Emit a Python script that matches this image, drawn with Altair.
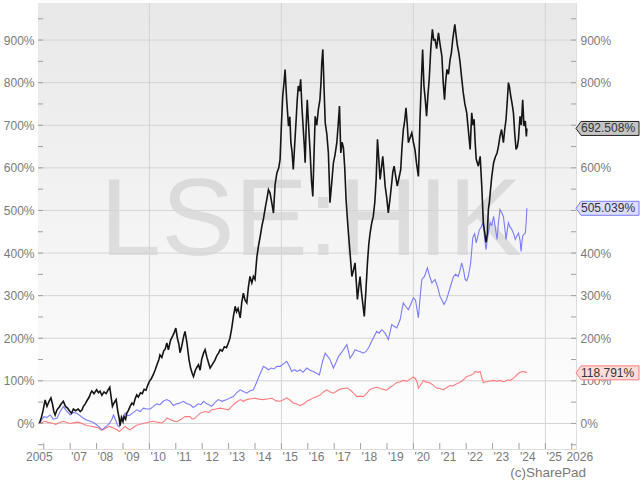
import altair as alt
import pandas as pd

# ---------------- data ----------------
hik_t = [2005.83, 2005.90, 2005.97, 2006.05, 2006.12, 2006.20, 2006.27, 2006.33, 2006.38, 2006.43,
         2006.50, 2006.58, 2006.65, 2006.74, 2006.82, 2006.90, 2006.97, 2007.05, 2007.12, 2007.20,
         2007.30, 2007.38, 2007.45, 2007.50, 2007.57, 2007.65, 2007.72, 2007.78, 2007.82, 2007.90,
         2008.00, 2008.07, 2008.13, 2008.20, 2008.28, 2008.36, 2008.43, 2008.50, 2008.55, 2008.60,
         2008.66, 2008.74, 2008.80, 2008.86, 2008.89, 2008.94, 2009.00, 2009.04, 2009.10, 2009.14,
         2009.20, 2009.27, 2009.34, 2009.40, 2009.46, 2009.52, 2009.58, 2009.66, 2009.73, 2009.80,
         2009.87, 2009.94, 2010.00, 2010.07, 2010.15, 2010.22, 2010.30, 2010.36, 2010.40, 2010.47,
         2010.54, 2010.60, 2010.66, 2010.72, 2010.80, 2010.88, 2010.95, 2011.00, 2011.06, 2011.12,
         2011.16, 2011.22, 2011.30, 2011.35, 2011.42, 2011.50, 2011.56, 2011.62, 2011.67, 2011.74,
         2011.80, 2011.86, 2011.92, 2011.98, 2012.05, 2012.11, 2012.18, 2012.25, 2012.30, 2012.38,
         2012.45, 2012.49, 2012.56, 2012.62, 2012.68, 2012.76, 2012.84, 2012.92, 2012.99, 2013.05,
         2013.12, 2013.18, 2013.25, 2013.30, 2013.36, 2013.44, 2013.50, 2013.56, 2013.62, 2013.69,
         2013.75, 2013.81, 2013.88, 2013.94, 2014.00, 2014.07, 2014.13, 2014.20, 2014.26, 2014.32,
         2014.40, 2014.46, 2014.51, 2014.57, 2014.63, 2014.70, 2014.76, 2014.83, 2014.90, 2014.95,
         2015.00, 2015.05, 2015.10, 2015.14, 2015.20, 2015.27, 2015.32, 2015.36, 2015.40, 2015.45,
         2015.50, 2015.56, 2015.60, 2015.64, 2015.69, 2015.73, 2015.78, 2015.83, 2015.87, 2015.90,
         2015.94, 2015.98, 2016.03, 2016.09, 2016.14, 2016.19, 2016.24, 2016.28, 2016.34, 2016.40,
         2016.46, 2016.50, 2016.53, 2016.57, 2016.62, 2016.66, 2016.72, 2016.78, 2016.81, 2016.84,
         2016.90, 2016.97, 2017.03, 2017.10, 2017.15, 2017.20, 2017.25, 2017.30, 2017.35, 2017.40,
         2017.45, 2017.50, 2017.54, 2017.60, 2017.67, 2017.73, 2017.79, 2017.84, 2017.88, 2017.93,
         2017.98, 2018.03, 2018.08, 2018.14, 2018.20, 2018.26, 2018.31, 2018.36, 2018.42, 2018.48,
         2018.54, 2018.59, 2018.64, 2018.69, 2018.74, 2018.79, 2018.84, 2018.89, 2018.93, 2018.99,
         2019.05, 2019.12, 2019.18, 2019.22, 2019.27, 2019.33, 2019.39, 2019.45, 2019.52, 2019.57,
         2019.62, 2019.67, 2019.72, 2019.77, 2019.81, 2019.87, 2019.94, 2020.00, 2020.06, 2020.12,
         2020.19, 2020.22, 2020.25, 2020.30, 2020.35, 2020.40, 2020.45, 2020.50, 2020.55, 2020.60,
         2020.66, 2020.72, 2020.77, 2020.82, 2020.88, 2020.95, 2021.01, 2021.08, 2021.13, 2021.18,
         2021.22, 2021.27, 2021.33, 2021.39, 2021.44, 2021.49, 2021.57, 2021.62, 2021.67, 2021.72,
         2021.77, 2021.83, 2021.89, 2021.95, 2022.02, 2022.08, 2022.15, 2022.21, 2022.26, 2022.30,
         2022.34, 2022.38, 2022.46, 2022.53, 2022.59, 2022.65, 2022.70, 2022.75, 2022.80, 2022.84,
         2022.88, 2022.91, 2022.97, 2023.04, 2023.10, 2023.17, 2023.22, 2023.28, 2023.34, 2023.41,
         2023.46, 2023.51, 2023.56, 2023.60, 2023.64, 2023.69, 2023.74, 2023.79, 2023.84, 2023.89,
         2023.94, 2023.98, 2024.04, 2024.09, 2024.14, 2024.19, 2024.24, 2024.28, 2024.30]
hik_v = [0, 12, 30, 55, 40, 52, 60, 45, 28, 20,
         32, 38, 45, 52, 40, 36, 30, 24, 34, 30,
         34, 28, 32, 40, 46, 55, 62, 72, 76, 70,
         79, 72, 76, 66, 74, 70, 78, 85, 62, 40,
         48, 56, 30, 10, -5, 14, 4, 16, 10, 24,
         30, 40, 48, 44, 58, 67, 62, 72, 70, 80,
         78, 90, 99, 105, 115, 126, 140, 150, 161, 155,
         170, 175, 189, 173, 195, 205, 215, 224, 200, 185,
         166, 180, 205, 216, 190, 150, 130, 118, 110, 125,
         132, 138, 125, 150, 165, 173, 155, 140, 130, 138,
         145, 150, 160, 165, 173, 170, 180, 178, 189, 200,
         224, 250, 275, 262, 270, 248, 285, 306, 290, 283,
         320, 345, 330, 345, 338, 390, 416, 440, 463, 480,
         510, 530, 549, 541, 520, 494, 560, 588, 600, 620,
         700, 768, 800, 831, 760, 698, 720, 659, 640, 596,
         650, 714, 760, 792, 780, 808, 740, 690, 650, 612,
         700, 760, 700, 635, 570, 533, 640, 721, 700, 737,
         760, 800, 847, 878, 780, 706, 680, 635, 580, 518,
         560, 612, 630, 659, 700, 745, 635, 660, 647, 600,
         526, 480, 447, 400, 345, 360, 377, 330, 291, 320,
         345, 310, 283, 251, 310, 377, 420, 447, 470, 486,
         520, 573, 667, 620, 573, 600, 627, 590, 557, 530,
         494, 530, 565, 590, 604, 580, 557, 575, 596, 650,
         690, 710, 741, 700, 659, 670, 682, 660, 643, 610,
         580, 640, 714, 800, 878, 792, 760, 721, 770, 808,
         880, 925, 900, 901, 880, 917, 890, 862, 800, 760,
         800, 831, 820, 854, 870, 901, 937, 910, 886, 870,
         847, 810, 776, 750, 729, 690, 643, 729, 700, 714,
         660, 620, 604, 627, 557, 471, 450, 425, 445, 502,
         520, 541, 580, 612, 625, 635, 650, 674, 690, 659,
         690, 714, 760, 800, 790, 768, 750, 729, 680, 643,
         650, 667, 721, 700, 760, 698, 710, 674, 692.508]

idx_t = [2005.83, 2005.92, 2006.00, 2006.12, 2006.24, 2006.36, 2006.50, 2006.62, 2006.74, 2006.85,
         2007.00, 2007.12, 2007.25, 2007.38, 2007.50, 2007.62, 2007.75, 2007.88, 2008.00, 2008.10,
         2008.20, 2008.30, 2008.40, 2008.50, 2008.58, 2008.64, 2008.72, 2008.80, 2008.86, 2008.95,
         2009.08, 2009.18, 2009.27, 2009.40, 2009.52, 2009.65, 2009.77, 2009.90, 2010.03, 2010.15,
         2010.28, 2010.40, 2010.52, 2010.66, 2010.78, 2010.91, 2011.04, 2011.16, 2011.29, 2011.41,
         2011.55, 2011.65, 2011.73, 2011.85, 2011.95, 2012.05, 2012.18, 2012.30, 2012.36, 2012.50,
         2012.61, 2012.75, 2012.93, 2013.05, 2013.18, 2013.30, 2013.44, 2013.56, 2013.69, 2013.80,
         2013.94, 2014.05, 2014.13, 2014.22, 2014.32, 2014.42, 2014.51, 2014.62, 2014.72, 2014.83,
         2014.95, 2015.08, 2015.20, 2015.30, 2015.39, 2015.50, 2015.60, 2015.71, 2015.82, 2015.96,
         2016.08, 2016.21, 2016.33, 2016.44, 2016.50, 2016.56, 2016.66, 2016.75, 2016.84, 2016.97,
         2017.06, 2017.16, 2017.26, 2017.35, 2017.48, 2017.54, 2017.60, 2017.70, 2017.79, 2017.90,
         2017.98, 2018.10, 2018.21, 2018.32, 2018.42, 2018.52, 2018.61, 2018.70, 2018.80, 2018.93,
         2019.05, 2019.12, 2019.18, 2019.27, 2019.37, 2019.50, 2019.56, 2019.62, 2019.70, 2019.81,
         2019.90, 2020.00, 2020.08, 2020.19, 2020.26, 2020.32, 2020.42, 2020.53, 2020.62, 2020.70,
         2020.82, 2020.92, 2021.01, 2021.08, 2021.16, 2021.25, 2021.33, 2021.42, 2021.52, 2021.60,
         2021.70, 2021.77, 2021.83, 2021.90, 2021.96, 2022.02, 2022.08, 2022.17, 2022.25, 2022.32,
         2022.38, 2022.44, 2022.50, 2022.56, 2022.63, 2022.69, 2022.75, 2022.80, 2022.86, 2022.91,
         2022.97, 2023.04, 2023.10, 2023.17, 2023.22, 2023.28, 2023.34, 2023.41, 2023.46, 2023.51,
         2023.56, 2023.60, 2023.66, 2023.73, 2023.80, 2023.86, 2023.92, 2023.98, 2024.04, 2024.08,
         2024.11, 2024.14, 2024.20, 2024.24, 2024.27, 2024.30]
idx_v = [0, 8, 16, 14, 20, 10, 12, 28, 40, 30,
         20, 26, 24, 18, 12, 8, 5, 2, -3, -8,
         -15, -10, -5, 1, 10, 20, 8, -5, -8, 10,
         24, 18, 20, 26, 32, 28, 36, 34, 34, 40,
         46, 44, 52, 56, 52, 42, 46, 48, 52, 47,
         44, 38, 40, 46, 44, 52, 46, 42, 40, 50,
         56, 52, 56, 60, 63, 72, 79, 75, 71, 76,
         79, 95, 107, 120, 134, 130, 126, 130, 128, 134,
         134, 140, 146, 135, 122, 126, 122, 126, 120, 130,
         125, 122, 118, 114, 130, 146, 165, 158, 150, 130,
         142, 157, 165, 173, 185, 170, 153, 162, 173, 170,
         169, 165, 169, 180, 193, 205, 216, 212, 220, 212,
         197, 215, 232, 228, 224, 244, 265, 283, 275, 267,
         280, 295, 290, 248, 300, 338, 345, 365, 345, 330,
         338, 320, 298, 290, 279, 290, 306, 325, 345, 350,
         345, 360, 377, 360, 338, 335, 345, 377, 436, 445,
         424, 440, 455, 460, 471, 440, 408, 430, 455, 471,
         465, 486, 460, 432, 470, 502, 495, 486, 460, 432,
         455, 471, 462, 455, 445, 432, 440, 447, 430, 404,
         425, 440, 445, 447, 470, 505.039]

ftse_t = [2005.83, 2005.95, 2006.05, 2006.18, 2006.30, 2006.45, 2006.60, 2006.74, 2006.87, 2007.00,
          2007.15, 2007.30, 2007.45, 2007.62, 2007.75, 2007.90, 2008.05, 2008.20, 2008.32, 2008.45,
          2008.50, 2008.62, 2008.77, 2008.86, 2008.95, 2009.08, 2009.18, 2009.27, 2009.40, 2009.52,
          2009.65, 2009.84, 2010.03, 2010.15, 2010.30, 2010.47, 2010.58, 2010.66, 2010.78, 2010.90,
          2011.04, 2011.20, 2011.35, 2011.54, 2011.62, 2011.72, 2011.92, 2012.10, 2012.25, 2012.36,
          2012.52, 2012.68, 2012.85, 2012.99, 2013.12, 2013.25, 2013.35, 2013.44, 2013.56, 2013.69,
          2013.85, 2014.00, 2014.15, 2014.32, 2014.50, 2014.64, 2014.80, 2014.95, 2015.10, 2015.20,
          2015.32, 2015.45, 2015.60, 2015.71, 2015.85, 2015.96, 2016.10, 2016.21, 2016.35, 2016.47,
          2016.60, 2016.72, 2016.85, 2016.97, 2017.10, 2017.22, 2017.35, 2017.48, 2017.58, 2017.67,
          2017.77, 2017.86, 2018.00, 2018.11, 2018.22, 2018.36, 2018.50, 2018.61, 2018.75, 2018.86,
          2018.98, 2019.12, 2019.25, 2019.37, 2019.50, 2019.62, 2019.75, 2019.87, 2020.00, 2020.08,
          2020.15, 2020.19, 2020.25, 2020.38, 2020.50, 2020.63, 2020.75, 2020.88, 2021.00, 2021.14,
          2021.25, 2021.39, 2021.50, 2021.64, 2021.75, 2021.83, 2021.92, 2022.02, 2022.12, 2022.21,
          2022.30, 2022.34, 2022.45, 2022.53, 2022.58, 2022.65, 2022.75, 2022.84, 2022.95, 2023.04,
          2023.16, 2023.28, 2023.38, 2023.47, 2023.56, 2023.66, 2023.76, 2023.86, 2023.95, 2024.04,
          2024.14, 2024.22, 2024.30]
ftse_v = [0, 3, 5, 2, 1, -2, 2, 5, 2, 0,
          2, 3, 0, -5, -6, -8, -10, -16, -12, -8,
          -7, -10, -15, -19, -14, -7, -12, -15, -9, -4,
          -2, 1, 4, 5, 3, 1, 6, 13, 9, 6,
          4, 10, 16, 16, 10, 12, 24, 28, 26, 32,
          34, 36, 34, 32, 40, 48, 52, 56, 52, 56,
          58, 59, 57, 56, 58, 59, 53, 52, 56, 60,
          55, 48, 45, 42, 46, 52, 56, 60, 63, 67,
          74, 79, 74, 71, 76, 80, 82, 83, 80, 75,
          68, 63, 64, 63, 70, 80, 83, 85, 82, 80,
          78, 85, 90, 96, 98, 101, 99, 104, 109, 105,
          95, 83, 88, 101, 97, 95, 90, 83, 82, 79,
          84, 89, 88, 93, 96, 99, 104, 110, 112, 114,
          118, 122, 120, 122, 110, 96, 98, 99, 100, 101,
          99, 101, 98, 99, 102, 101, 105, 110, 116, 120,
          122, 121, 118.791]

tag_names = ["LSE:HIK", "Index", "FTSE"]
tag_values = [692.508, 505.039, 118.791]

y_label_values = [0, 100, 200, 300, 400, 500, 600, 700, 800, 900]
y_tick_values = [-50, 0, 50, 100, 150, 200, 250, 300, 350, 400, 450, 500, 550,
                 600, 650, 700, 750, 800, 850, 900, 950]
x_label_years = [2007, 2008, 2009, 2010, 2011, 2012, 2013, 2014, 2015, 2016,
                 2017, 2018, 2019, 2020, 2021, 2022, 2023, 2024, 2025]
x_label_texts = ["'07", "'08", "'09", "'10", "'11", "'12", "'13", "'14", "'15", "'16",
                 "'17", "'18", "'19", "'20", "'21", "'22", "'23", "'24", "'25"]
x_start_label = [2005.83]   # first data point (Nov 2005) labelled with its year
x_end_label = [2026]
x_tick_values = list(range(2006, 2027))
x_grid_values = [2010, 2015, 2020, 2025]

# ---------------- styling ----------------
W, H = 538, 446
FONT = "Liberation Sans"
LABEL = "#7a7a7a"
FRAME = "#a0a0a0"
GRID = "#d4d4d4"

xs = alt.Scale(domain=[2005.78, 2026.16], nice=False, zero=False)
ys = alt.Scale(domain=[-60, 987], nice=False, zero=False)

one = pd.DataFrame({"k": [0]})
hik = pd.DataFrame({"t": hik_t, "v": hik_v})
idx = pd.DataFrame({"t": idx_t, "v": idx_v})
ftse = pd.DataFrame({"t": ftse_t, "v": ftse_v})
tags = pd.DataFrame({"name": tag_names, "v": tag_values})

bg = alt.Chart(one).mark_rect(
    color=alt.LinearGradient(
        gradient="linear", x1=0, x2=0, y1=0, y2=1,
        stops=[alt.GradientStop(color="#e8e8e8", offset=0),
               alt.GradientStop(color="#ffffff", offset=1)])
).encode(x=alt.value(0), x2=alt.value(W), y=alt.value(0), y2=alt.value(H))

wm = alt.Chart(one).mark_text(
    font=FONT, fontSize=110, color="#000000", opacity=0.09,
    align="center", baseline="alphabetic"
).encode(x=alt.value(273), y=alt.value(252), text=alt.value("LSE:HIK"))

hgrid = alt.Chart(pd.DataFrame({"v": y_label_values})).mark_rule(
    color=GRID, strokeWidth=1
).encode(y=alt.Y("v:Q", scale=ys, axis=None))

vgrid = alt.Chart(pd.DataFrame({"t": x_grid_values})).mark_rule(
    color=GRID, strokeWidth=1
).encode(x=alt.X("t:Q", scale=xs, axis=None))

yt = pd.DataFrame({"v": y_tick_values})
lticks = alt.Chart(yt).mark_rule(color=FRAME).encode(
    y=alt.Y("v:Q", scale=ys, axis=None), x=alt.value(0), x2=alt.value(5))
rticks = alt.Chart(yt).mark_rule(color=FRAME).encode(
    y=alt.Y("v:Q", scale=ys, axis=None), x=alt.value(W - 5), x2=alt.value(W))
bticks = alt.Chart(pd.DataFrame({"t": x_tick_values})).mark_rule(color=FRAME).encode(
    x=alt.X("t:Q", scale=xs, axis=None), y=alt.value(H - 6), y2=alt.value(H))

common_axis = dict(title=None, domain=False, ticks=False, grid=False,
                   labelFont=FONT, labelFontSize=12, labelColor=LABEL)

left_axis = alt.Axis(orient="left", values=y_label_values, labelExpr="datum.value + '%'",
                     labelPadding=4, **common_axis)
right_axis = alt.Axis(orient="right", values=y_label_values, labelExpr="datum.value + '%'",
                      labelPadding=4, **common_axis)

red = alt.Chart(ftse).mark_line(color="#ff7b7b", strokeWidth=1.1).encode(
    x=alt.X("t:Q", scale=xs, axis=None),
    y=alt.Y("v:Q", scale=ys, axis=left_axis))
blue = alt.Chart(idx).mark_line(color="#7b7bff", strokeWidth=1.1).encode(
    x=alt.X("t:Q", scale=xs, axis=None),
    y=alt.Y("v:Q", scale=ys, axis=right_axis))
black = alt.Chart(hik).mark_line(color="#151515", strokeWidth=1.6).encode(
    x=alt.X("t:Q", scale=xs, axis=None),
    y=alt.Y("v:Q", scale=ys, axis=None))

# x-axis labels (year labels placed at the year ticks through the x scale)
year_lbl = alt.Chart(pd.DataFrame({"t": x_label_years, "lbl": x_label_texts})).mark_text(
    font=FONT, fontSize=12, color=LABEL, align="left", baseline="top", dx=1
).encode(x=alt.X("t:Q", scale=xs, axis=None), y=alt.value(H + 3), text="lbl:N")
start_lbl = alt.Chart(pd.DataFrame({"t": x_start_label})).mark_text(
    font=FONT, fontSize=12, color=LABEL, align="center", baseline="top"
).encode(x=alt.X("t:Q", scale=xs, axis=None), y=alt.value(H + 3), text=alt.value("2005"))
end_lbl = alt.Chart(pd.DataFrame({"t": x_end_label})).mark_text(
    font=FONT, fontSize=12, color=LABEL, align="center", baseline="top", dx=8
).encode(x=alt.X("t:Q", scale=xs, axis=None), y=alt.value(H + 3), text=alt.value("2026"))

TAG_PATH = "M-1,0 L-0.84,-0.222 L1,-0.222 L1,0.222 L-0.84,0.222 Z"
tag_box = alt.Chart(tags).mark_point(
    shape=TAG_PATH, size=3969, filled=True, opacity=1, strokeWidth=1, strokeOpacity=1
).encode(
    x=alt.value(W + 31.5),
    y=alt.Y("v:Q", scale=ys, axis=None),
    fill=alt.Fill("name:N", scale=alt.Scale(domain=tag_names, range=["#c4c4c4", "#dcdcff", "#ffdcdc"]), legend=None),
    stroke=alt.Stroke("name:N", scale=alt.Scale(domain=tag_names, range=["#222222", "#7b7bff", "#ff7b7b"]), legend=None),
)
tag_text = alt.Chart(tags).transform_calculate(
    label="format(datum.v, '.3f') + '%'"
).mark_text(align="left", baseline="middle", font=FONT, fontSize=12, color="#333333").encode(
    x=alt.value(W + 5), y=alt.Y("v:Q", scale=ys, axis=None), text="label:N")

copyright_txt = alt.Chart(one).mark_text(
    font=FONT, fontSize=13.5, color=LABEL, align="right", baseline="alphabetic"
).encode(x=alt.value(548), y=alt.value(474), text=alt.value("(c)SharePad"))

chart = alt.layer(
    bg, wm, hgrid, vgrid, red, blue, black, lticks, rticks, bticks,
    year_lbl, start_lbl, end_lbl, tag_box, tag_text, copyright_txt
).resolve_axis(y="independent").properties(
    width=W, height=H,
    autosize=alt.AutoSizeParams(type="none"),
    padding={"left": 38, "top": 3, "right": 64, "bottom": 31},
).configure_view(stroke=FRAME, strokeWidth=1).configure(background="white")

chart.save("out.html", embed_options={"renderer": "svg", "actions": False})
